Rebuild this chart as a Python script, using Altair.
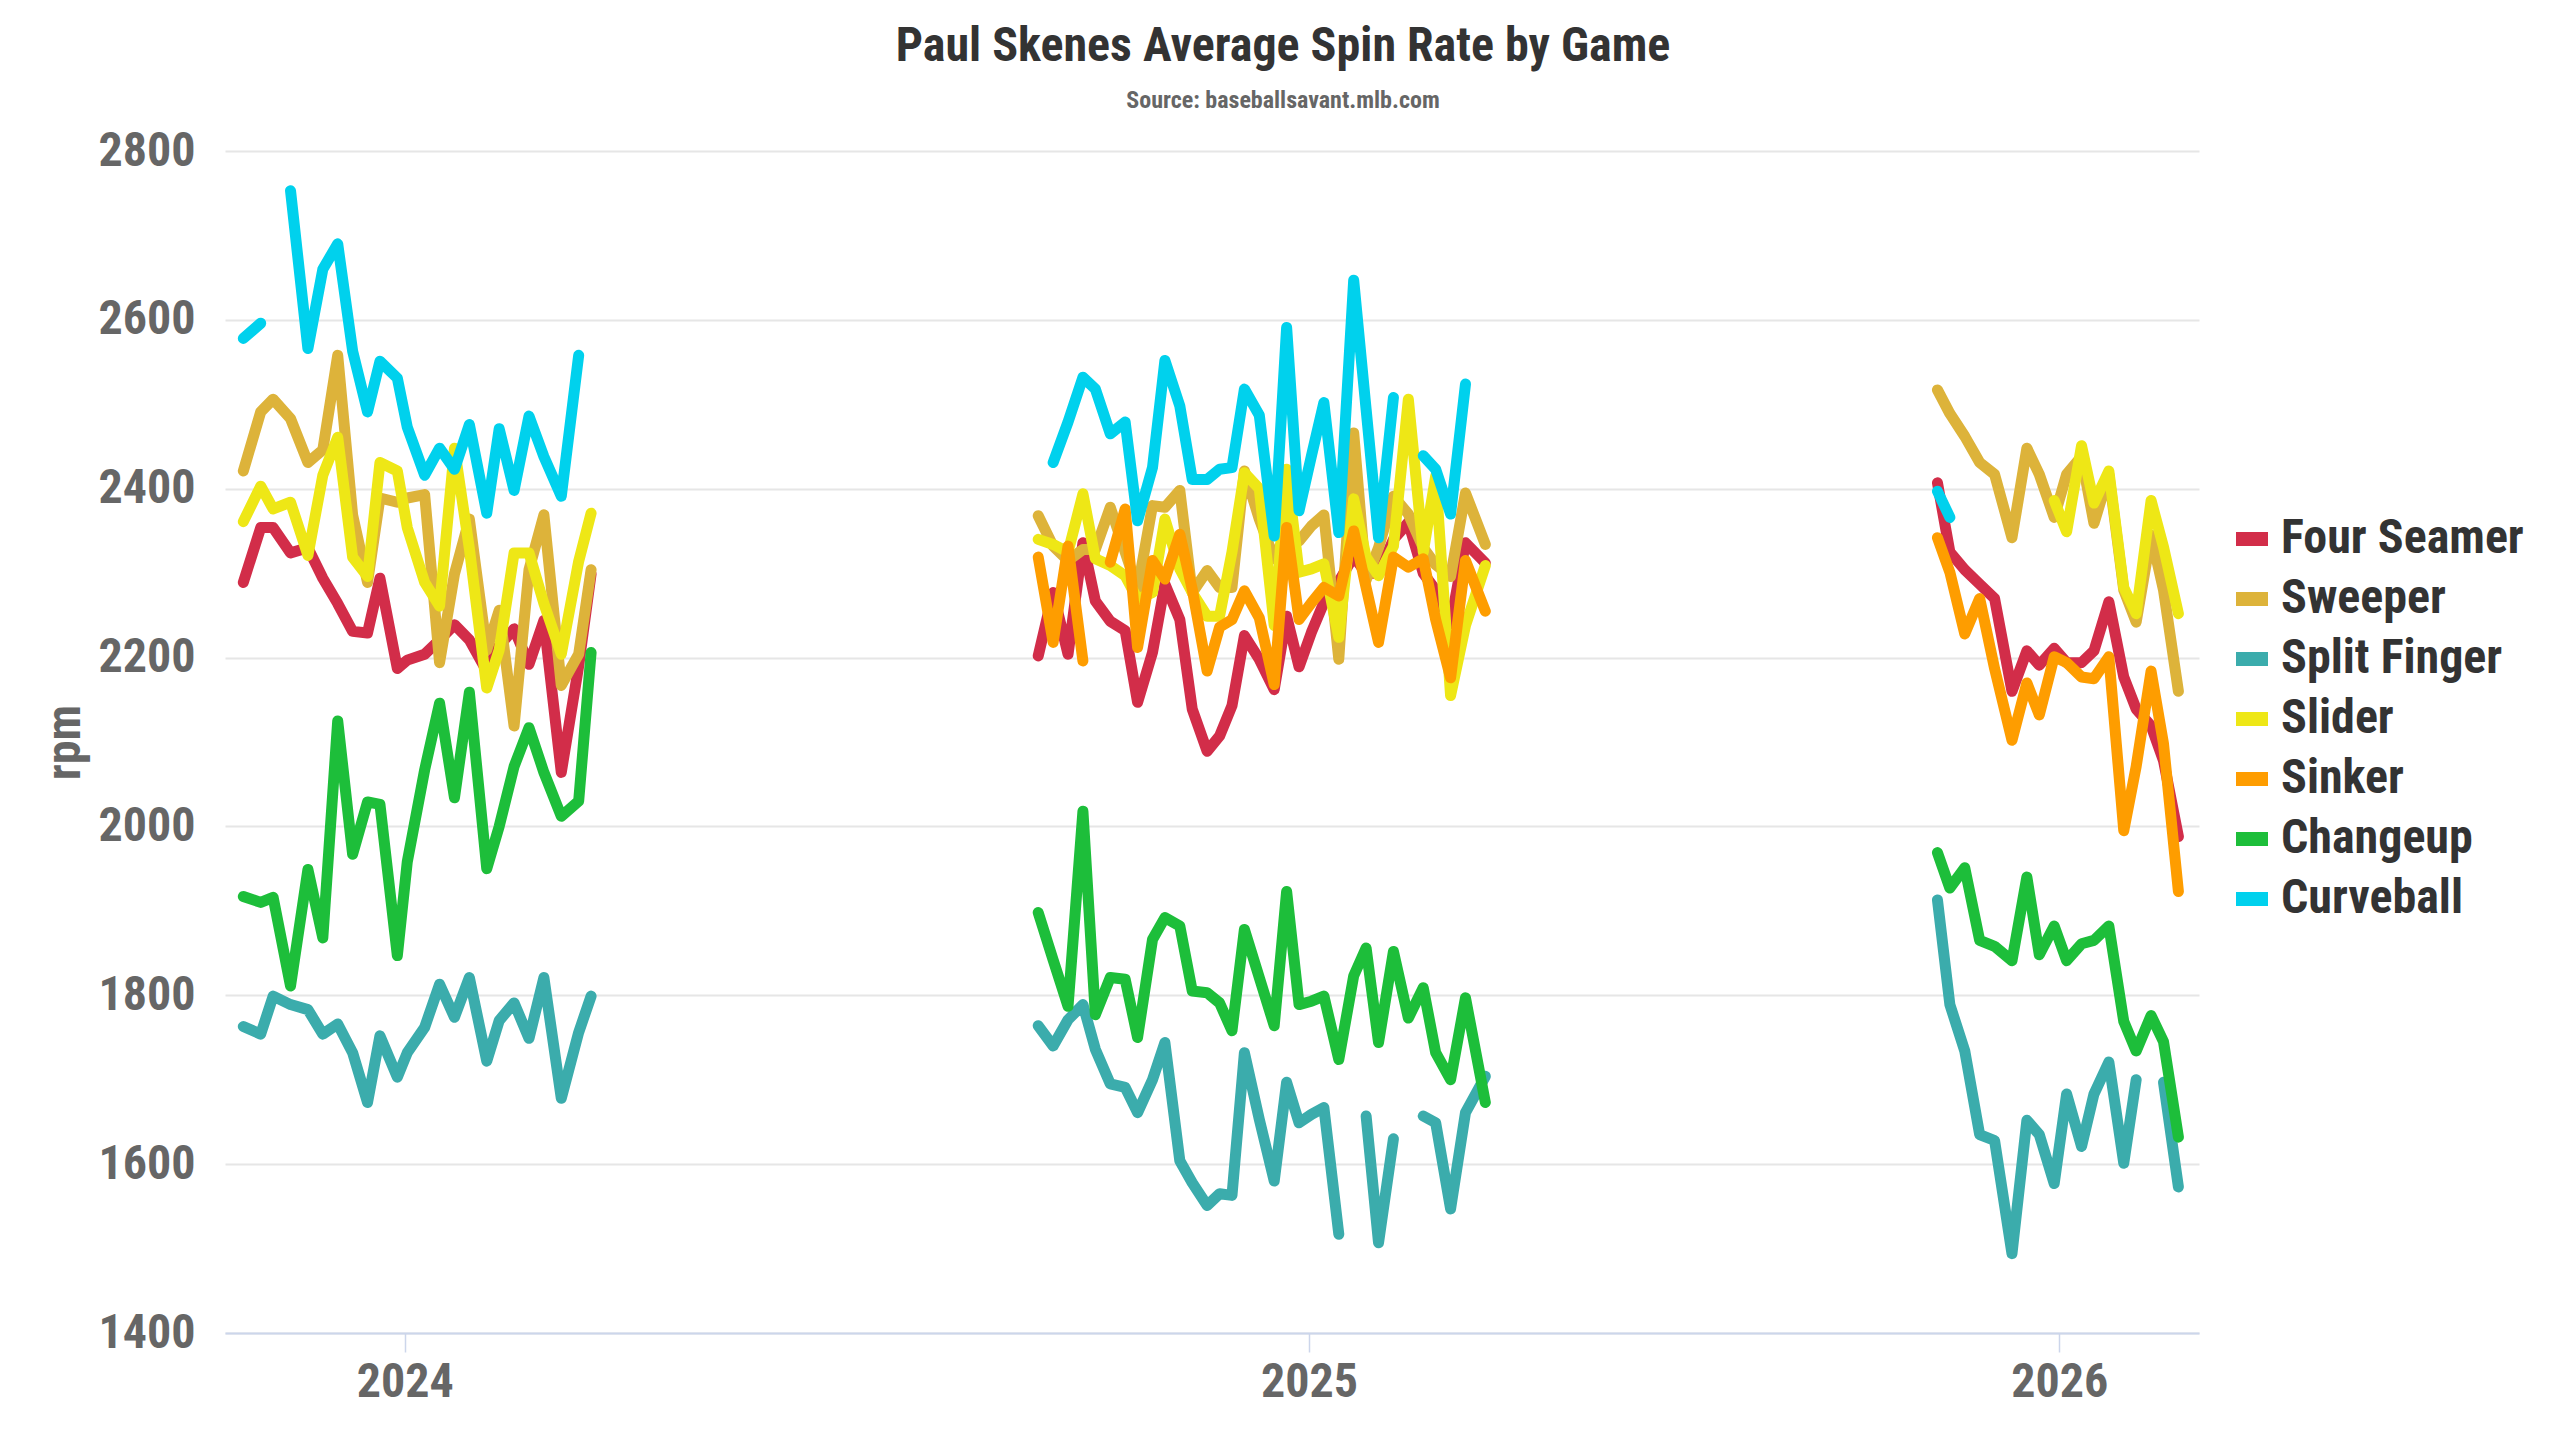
import altair as alt
import pandas as pd

# ---------------- data ----------------
pitch_names = ["Four Seamer", "Sweeper", "Split Finger", "Slider", "Sinker", "Changeup", "Curveball"]
pitch_colors = ["#D22D49", "#DDB33A", "#3BACAC", "#EEE716", "#FE9D00", "#1DBE3A", "#00D1ED"]

dates_2024 = ["2024-05-11", "2024-05-18", "2024-05-23", "2024-05-30", "2024-06-06", "2024-06-12",
              "2024-06-18", "2024-06-24", "2024-06-30", "2024-07-05", "2024-07-12", "2024-07-16",
              "2024-07-23", "2024-07-29", "2024-08-04", "2024-08-10", "2024-08-17", "2024-08-22",
              "2024-08-28", "2024-09-03", "2024-09-09", "2024-09-16", "2024-09-23", "2024-09-28"]
four_seamer_2024 = [2289, 2354, 2354, 2324, 2330, 2294, 2264, 2231, 2229, 2294, 2187, 2197,
                    2204, 2221, 2239, 2221, 2184, 2214, 2234, 2192, 2244, 2064, 2190, 2299]
sweeper_2024 = [2421, 2491, 2506, 2483, 2431, 2446, 2558, 2369, 2289, 2389, 2384, 2389,
                2393, 2194, 2299, 2364, 2209, 2256, 2119, 2304, 2369, 2167, 2204, 2304]
split_finger_2024 = [1763, 1754, 1799, 1789, 1783, 1754, 1766, 1732, 1673, 1752, 1703, 1732,
                     1762, 1813, 1774, 1821, 1722, 1770, 1791, 1749, 1821, 1678, 1756, 1799]
slider_2024 = [2361, 2403, 2376, 2384, 2321, 2416, 2461, 2319, 2296, 2431, 2421, 2354,
               2289, 2261, 2448, 2329, 2164, 2209, 2324, 2324, 2264, 2204, 2314, 2371]
sinker_2024 = [None] * 24
changeup_2024 = [1917, 1910, 1916, 1811, 1949, 1868, 2125, 1967, 2029, 2026, 1847, 1958,
                 2067, 2146, 2034, 2159, 1950, 2000, 2071, 2117, 2064, 2012, 2030, 2206]
curveball_2024 = [2578, 2596, None, 2753, 2566, 2660, 2690, 2563, 2491, 2551, 2531, 2473,
                  2416, 2448, 2423, 2476, 2371, 2471, 2398, 2486, 2438, 2391, 2558, None]

dates_2025 = ["2025-03-27", "2025-04-02", "2025-04-08", "2025-04-14", "2025-04-19", "2025-04-25",
              "2025-05-01", "2025-05-06", "2025-05-12", "2025-05-17", "2025-05-23", "2025-05-28",
              "2025-06-03", "2025-06-08", "2025-06-13", "2025-06-18", "2025-06-24", "2025-06-30",
              "2025-07-05", "2025-07-10", "2025-07-15", "2025-07-20", "2025-07-26", "2025-08-01",
              "2025-08-06", "2025-08-11", "2025-08-17", "2025-08-23", "2025-08-29", "2025-09-03",
              "2025-09-09", "2025-09-15", "2025-09-23"]
four_seamer_2025 = [2202, 2277, 2204, 2336, 2267, 2243, 2232, 2147, 2206, 2287, 2245, 2139,
                    2089, 2107, 2143, 2226, 2198, 2162, 2249, 2189, 2230, 2265, 2290, 2320,
                    2300, 2300, 2340, 2360, 2300, 2280, 2240, 2336, 2312]
sweeper_2025 = [2368, 2332, 2315, 2328, 2328, 2378, 2325, 2281, 2380, 2378, 2398, 2277,
                2303, 2283, 2283, 2421, 2364, 2317, 2348, 2338, 2356, 2369, 2198, 2466,
                2292, 2330, 2391, 2370, 2330, 2310, 2296, 2395, 2334]
split_finger_2025 = [1764, 1740, 1771, 1789, 1736, 1695, 1691, 1661, 1700, 1744, 1604, 1578,
                     1551, 1565, 1563, 1732, 1653, 1580, 1697, 1649, 1659, 1667, 1517, None,
                     1657, 1507, 1630, None, 1657, 1649, 1547, 1661, 1704]
slider_2025 = [2340, 2334, 2325, 2394, 2317, 2309, 2297, 2269, 2277, 2364, 2305, 2277,
               2249, 2249, 2325, 2419, 2400, 2238, 2423, 2301, 2305, 2311, 2224, 2388,
               2319, 2297, 2332, 2506, 2325, 2415, 2155, 2238, 2309]
sinker_2025 = [2319, 2218, 2332, 2196, None, 2313, 2376, 2212, 2315, 2293, 2346, 2281,
               2184, 2236, 2245, 2279, 2247, 2168, 2354, 2245, 2265, 2283, 2273, 2350,
               2283, 2218, 2319, 2307, 2317, 2245, 2176, 2315, 2255]
changeup_2025 = [1898, 1842, 1787, 2018, 1777, 1821, 1819, 1750, 1866, 1892, 1882, 1805,
                 1803, 1791, 1758, 1878, 1821, 1764, 1923, 1789, 1793, 1799, 1724, 1823,
                 1856, 1744, 1852, 1773, 1809, 1732, 1700, 1797, 1673]
curveball_2025 = [None, 2431, 2479, 2532, 2518, 2465, 2479, 2362, 2425, 2552, 2498, 2411,
                  2411, 2423, 2425, 2518, 2487, 2344, 2591, 2374, 2439, 2502, 2348, 2647,
                  2494, 2342, 2508, None, 2439, 2423, 2370, 2524, None]

dates_2026 = ["2026-03-24", "2026-03-29", "2026-04-04", "2026-04-10", "2026-04-16", "2026-04-23",
              "2026-04-29", "2026-05-04", "2026-05-10", "2026-05-15", "2026-05-21", "2026-05-26",
              "2026-06-01", "2026-06-07", "2026-06-12", "2026-06-18", "2026-06-23", "2026-06-29"]
four_seamer_2026 = [2407, 2325, 2304, 2287, 2270, 2160, 2208, 2191, 2211, 2194, 2194, 2208,
                    2266, 2177, 2139, 2119, 2078, 1988]
sweeper_2026 = [2517, 2489, 2462, 2431, 2417, 2342, 2448, 2417, 2366, 2417, 2438, 2359,
                2417, 2280, 2242, 2345, 2280, 2160]
split_finger_2026 = [1913, 1789, 1734, 1635, 1628, 1494, 1652, 1635, 1577, 1683, 1621, 1683,
                     1721, 1601, 1700, None, 1697, 1573]
slider_2026 = [None, None, None, None, None, None, None, None, 2386, 2349, 2451, 2383,
               2421, 2283, 2252, 2386, 2331, 2252]
sinker_2026 = [2342, 2301, 2228, 2270, 2187, 2102, 2170, 2132, 2201, 2194, 2177, 2175,
               2201, 1995, 2071, 2184, 2098, 1923]
changeup_2026 = [1969, 1927, 1951, 1865, 1858, 1841, 1940, 1848, 1882, 1841, 1861, 1865,
                 1882, 1769, 1734, 1776, 1745, 1632]
curveball_2026 = [2397, 2366, None, None, None, None, None, None, None, None, None, None,
                  None, None, None, None, None, None]

# axis tick positions / labels as drawn in the reference
year_tick_dates = [(2024, 7, 15), (2025, 7, 14), (2026, 5, 12)]
x_domain = [(2024, 5, 3, 15), (2026, 7, 7, 7)]
y_ticks = [1400, 1600, 1800, 2000, 2200, 2400, 2600, 2800]

seasons = [
    (dates_2024, [four_seamer_2024, sweeper_2024, split_finger_2024, slider_2024,
                  sinker_2024, changeup_2024, curveball_2024]),
    (dates_2025, [four_seamer_2025, sweeper_2025, split_finger_2025, slider_2025,
                  sinker_2025, changeup_2025, curveball_2025]),
    (dates_2026, [four_seamer_2026, sweeper_2026, split_finger_2026, slider_2026,
                  sinker_2026, changeup_2026, curveball_2026]),
]

# ---------------- build long table, one path segment per unbroken run ----------------
rows = []
seg = 0
for p_i, pitch in enumerate(pitch_names):
    for dates, series_list in seasons:
        series = series_list[p_i]
        in_seg = False
        for d, v in zip(dates, series):
            if v is None:
                in_seg = False
                continue
            if not in_seg:
                seg += 1
                in_seg = True
            rows.append({"date": d, "pitch": pitch, "rpm": v, "seg": seg})
df = pd.DataFrame(rows)

FONT = "Roboto Condensed, Roboto, sans-serif"

def dt(t):
    return alt.DateTime(year=t[0], month=t[1], date=t[2], hours=(t[3] if len(t) > 3 else 0), utc=True)

chart = alt.Chart(df).mark_line(
    strokeWidth=11, strokeCap="round", strokeJoin="round"
).encode(
    x=alt.X("date:T",
            scale=alt.Scale(type="utc", domain=[dt(x_domain[0]), dt(x_domain[1])]),
            axis=alt.Axis(values=[dt(t) for t in year_tick_dates],
                          labelExpr="utcFormat(datum.value, '%Y')",
                          title=None, grid=False,
                          domainColor="#ccd6eb", domainWidth=2,
                          tickColor="#ccd6eb", tickWidth=1.5, tickSize=19,
                          labelPadding=6, labelFontSize=48, labelFont=FONT,
                          labelFontWeight="bold", labelColor="#666666")),
    y=alt.Y("rpm:Q",
            scale=alt.Scale(domain=[1400, 2800], nice=False, zero=False),
            axis=alt.Axis(values=y_ticks, format="d", title="rpm", domain=False, ticks=False,
                          gridColor="#e6e6e6", gridWidth=2,
                          labelPadding=30, labelFontSize=48, labelFont=FONT,
                          labelFontWeight="bold", labelColor="#666666",
                          titleFontSize=48, titleFont=FONT, titleFontWeight="bold",
                          titleColor="#666666", titlePadding=8)),
    color=alt.Color("pitch:N",
                    scale=alt.Scale(domain=pitch_names, range=pitch_colors),
                    legend=alt.Legend(title=None, orient="none", legendX=2003, legendY=364,
                                      symbolType="stroke", symbolStrokeWidth=14,
                                      symbolSize=1024, labelFontSize=48, labelFont=FONT,
                                      labelFontWeight="bold", labelColor="#333333",
                                      labelOffset=5, rowPadding=4, labelLimit=0)),
    detail="seg:N",
).properties(
    width=1974,
    height=1182,
    padding={"left": 33, "top": 15, "right": 10, "bottom": 10},
    title=alt.TitleParams(
        text="Paul Skenes Average Spin Rate by Game",
        subtitle="Source: baseballsavant.mlb.com",
        font=FONT, fontSize=48, fontWeight="bold", color="#333333",
        subtitleFont=FONT, subtitleFontSize=24, subtitleFontWeight="bold",
        subtitleColor="#666666", subtitlePadding=18, offset=14, anchor="middle",
        frame="bounds",
    ),
).configure(background="white").configure_view(stroke=None)

chart.save("out.html", embed_options={"renderer": "svg", "actions": False})
